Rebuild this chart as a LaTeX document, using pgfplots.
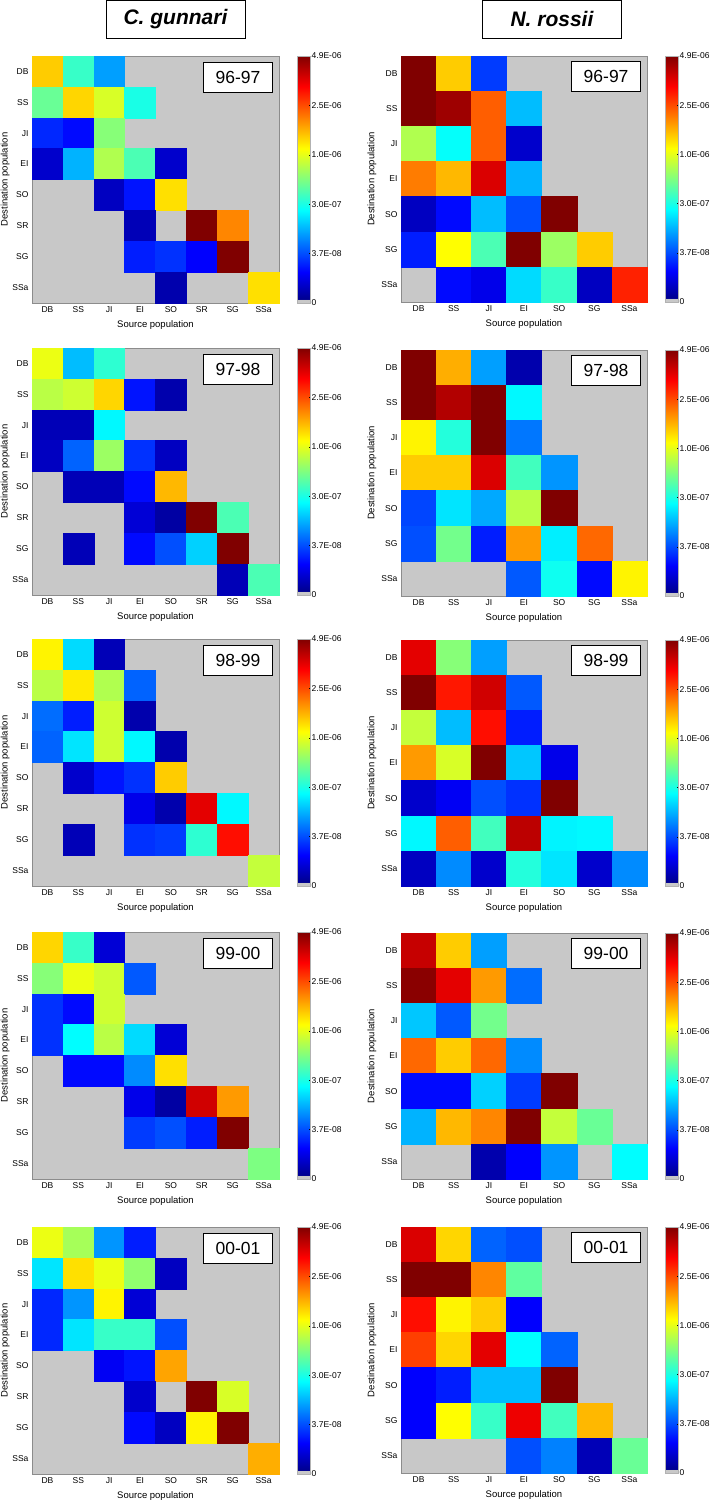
\documentclass[border=0pt]{standalone}
\usepackage{fontspec}
\setmainfont{Liberation Sans}
\usepackage{pgfplots}
\usepackage{pgfplotstable}
\pgfplotsset{compat=1.18}

\definecolor{cgray}{RGB}{200,200,200}

% columns: x = source index, y = destination index (0 = top row), f = position in jet colormap (0..1)
\pgfplotstableread{
x y f
0 0 .67
1 0 .42
2 0 .27
0 1 .47
1 1 .66
2 1 .58
3 1 .39
0 2 .15
1 2 .12
2 2 .50
0 3 .06
1 3 .29
2 3 .54
3 3 .44
4 3 .06
2 4 .05
3 4 .13
4 4 .65
3 5 .04
5 5 1
6 5 .74
3 6 .14
4 6 .16
5 6 .11
6 6 1
4 7 .03
7 7 .65
}\LA
\pgfplotstableread{
x y f
0 0 1
1 0 .67
2 0 .17
0 1 1
1 1 .97
2 1 .78
3 1 .30
0 2 .54
1 2 .37
2 2 .78
3 2 .06
0 3 .75
1 3 .69
2 3 .91
3 3 .29
0 4 .05
1 4 .12
2 4 .30
3 4 .19
4 4 1
0 5 .14
1 5 .62
2 5 .44
3 5 1
4 5 .52
5 5 .67
1 6 .12
2 6 .09
3 6 .33
4 6 .42
5 6 .05
6 6 .84
}\RA
\pgfplotstableread{
x y f
0 0 .60
1 0 .30
2 0 .41
0 1 .55
1 1 .57
2 1 .66
3 1 .13
4 1 .03
0 2 .04
1 2 .04
2 2 .36
0 3 .05
1 3 .21
2 3 .52
3 3 .16
4 3 .05
1 4 .04
2 4 .04
3 4 .12
4 4 .69
3 5 .07
4 5 .02
5 5 1
6 5 .44
1 6 .04
3 6 .12
4 6 .19
5 6 .32
6 6 1
6 7 .04
7 7 .44
}\LB
\pgfplotstableread{
x y f
0 0 1
1 0 .70
2 0 .27
3 0 .03
0 1 1
1 1 .95
2 1 1
3 1 .36
0 2 .63
1 2 .40
2 2 1
3 2 .23
0 3 .67
1 3 .67
2 3 .91
3 3 .43
4 3 .26
0 4 .18
1 4 .34
2 4 .28
3 4 .55
4 4 1
0 5 .19
1 5 .48
2 5 .14
3 5 .72
4 5 .35
5 5 .77
3 6 .20
4 6 .38
5 6 .12
6 6 .63
}\RB
\pgfplotstableread{
x y f
0 0 .63
1 0 .33
2 0 .04
0 1 .55
1 1 .64
2 1 .54
3 1 .21
0 2 .22
1 2 .14
2 2 .57
3 2 .03
0 3 .21
1 3 .34
2 3 .57
3 3 .36
4 3 .03
1 4 .06
2 4 .13
3 4 .16
4 4 .67
3 5 .09
4 5 .03
5 5 .90
6 5 .36
1 6 .04
3 6 .16
4 6 .17
5 6 .41
6 6 .86
7 7 .56
}\LC
\pgfplotstableread{
x y f
0 0 .90
1 0 .50
2 0 .27
0 1 1
1 1 .85
2 1 .92
3 1 .20
0 2 .56
1 2 .30
2 2 .86
3 2 .14
0 3 .72
1 3 .58
2 3 1
3 3 .31
4 3 .09
0 4 .06
1 4 .10
2 4 .19
3 4 .16
4 4 1
0 5 .36
1 5 .78
2 5 .43
3 5 .94
4 5 .355
5 5 .36
0 6 .05
1 6 .25
2 6 .06
3 6 .40
4 6 .34
5 6 .06
6 6 .25
}\RC
\pgfplotstableread{
x y f
0 0 .66
1 0 .42
2 0 .07
0 1 .50
1 1 .60
2 1 .57
3 1 .20
0 2 .16
1 2 .12
2 2 .57
0 3 .16
1 3 .365
2 3 .55
3 3 .33
4 3 .07
1 4 .12
2 4 .12
3 4 .25
4 4 .65
3 5 .09
4 5 .02
5 5 .92
6 5 .72
3 6 .17
4 6 .19
5 6 .14
6 6 1
7 7 .49
}\LD
\pgfplotstableread{
x y f
0 0 .93
1 0 .67
2 0 .27
0 1 .99
1 1 .90
2 1 .72
3 1 .22
0 2 .31
1 2 .20
2 2 .48
0 3 .77
1 3 .67
2 3 .77
3 3 .25
0 4 .12
1 4 .12
2 4 .32
3 4 .17
4 4 1
0 5 .29
1 5 .69
2 5 .74
3 5 1
4 5 .56
5 5 .47
2 6 .03
3 6 .11
4 6 .26
6 6 .365
}\RD
\pgfplotstableread{
x y f
0 0 .60
1 0 .53
2 0 .26
3 0 .14
0 1 .34
1 1 .65
2 1 .60
3 1 .51
4 1 .05
0 2 .15
1 2 .26
2 2 .63
3 2 .07
0 3 .15
1 3 .34
2 3 .42
3 3 .42
4 3 .19
2 4 .10
3 4 .13
4 4 .71
3 5 .06
5 5 1
6 5 .58
3 6 .12
4 6 .05
5 6 .63
6 6 1
7 7 .70
}\LE
\pgfplotstableread{
x y f
0 0 .91
1 0 .66
2 0 .21
3 0 .19
0 1 1
1 1 1
2 1 .74
3 1 .46
0 2 .86
1 2 .63
2 2 .67
3 2 .11
0 3 .81
1 3 .66
2 3 .90
3 3 .365
4 3 .21
0 4 .11
1 4 .14
2 4 .30
3 4 .30
4 4 1
0 5 .11
1 5 .62
2 5 .42
3 5 .89
4 5 .43
5 5 .69
3 6 .19
4 6 .24
5 6 .04
6 6 .47
}\RE

\pgfplotsset{
  colormap={grayjet}{rgb255(0pt)=(200,200,200) rgb255(9pt)=(200,200,200)
    rgb255(10pt)=(0,0,143) rgb255(81pt)=(0,0,255) rgb255(244pt)=(0,255,255)
    rgb255(406pt)=(255,255,0) rgb255(569pt)=(255,0,0) rgb255(650pt)=(128,0,0)},
  panelbase/.style={
    scale only axis,
    y dir=reverse,
    axis background/.style={fill=cgray},
    axis line style={draw=black!45, line width=0.4pt},
    major tick length=0pt,
    ticklabel style={font=\fontsize{8.5}{9}\selectfont, text=black},
    xlabel={Source population}, ylabel={Destination population},
    label style={font=\fontsize{9.5}{10}\selectfont},
    point meta min=-0.015625, point meta max=1,
    colorbar,
    colorbar style={
      at={(parent axis.north east)}, anchor=north west,
      scale only axis, width=13pt,
      y dir=normal,
      ytick={-0.015625,0.1875,0.390625,0.59375,0.796875,1},
      yticklabels={0,3.7E-08,3.0E-07,1.0E-06,2.5E-06,4.9E-06},
      yticklabel style={font=\fontsize{8.5}{9}\selectfont, inner sep=1pt},
      ytick pos=right, tick align=inside, major tick length=2pt,
      tick style={black, line width=0.4pt},
      axis line style={draw=black!30, line width=0.3pt},
    },
  },
  cgpanel/.style={panelbase,
    width=247pt, height=247pt,
    xmin=-0.5, xmax=7.5, ymin=-0.5, ymax=7.5,
    xtick={0,...,7}, ytick={0,...,7},
    xticklabels={DB,SS,JI,EI,SO,SR,SG,SSa},
    yticklabels={DB,SS,JI,EI,SO,SR,SG,SSa},
    xlabel style={at={(axis description cs:0.5,-0.089)}, anchor=center},
    ylabel style={at={(axis description cs:-0.109,0.5)}, anchor=center},
    colorbar style={xshift=10pt, height=247pt},
  },
  nrpanel/.style={panelbase,
    width=246pt, height=246pt,
    xmin=-0.5, xmax=6.5, ymin=-0.5, ymax=6.5,
    xtick={0,...,6}, ytick={0,...,6},
    xticklabels={DB,SS,JI,EI,SO,SG,SSa},
    yticklabels={DB,SS,JI,EI,SO,SG,SSa},
    xlabel style={at={(axis description cs:0.5,-0.089)}, anchor=center},
    ylabel style={at={(axis description cs:-0.118,0.5)}, anchor=center},
    colorbar style={xshift=10pt, height=246pt},
  },
  cgcells/.style={scatter, only marks, mark=square*, mark size=15.4375pt,
    point meta=explicit, scatter/use mapped color={draw=mapped color, fill=mapped color},
    mark options={line width=0.3pt}},
  nrcells/.style={scatter, only marks, mark=square*, mark size=17.571pt,
    point meta=explicit, scatter/use mapped color={draw=mapped color, fill=mapped color},
    mark options={line width=0.3pt}},
}
\tikzset{yearbox/.style={draw=black, line width=1pt, fill=white, anchor=north east,
    minimum width=69pt, minimum height=30pt, inner sep=0pt,
    font=\fontsize{17.5}{18}\selectfont}}

\begin{document}
\begin{tikzpicture}[x=1pt,y=1pt]
\useasboundingbox (0,0) rectangle (709,1503);

\node[draw=black, line width=1pt, minimum width=139pt, minimum height=38pt, inner sep=0pt,
  font=\bfseries\itshape\fontsize{21}{22}\selectfont] at (175.5,1483.5) {C. gunnari};
\node[draw=black, line width=1pt, minimum width=139pt, minimum height=38pt, inner sep=0pt,
  font=\bfseries\itshape\fontsize{21}{22}\selectfont] at (552,1483.5) {N. rossii};

% ---------- row 1 ----------
\begin{axis}[cgpanel, at={(32pt,1200pt)}, anchor=south west]
\addplot[cgcells] table[x=x, y=y, meta=f] {\LA};
\node[yearbox] at (axis description cs:0.976,0.976) {96-97};
\end{axis}
\begin{axis}[nrpanel, at={(401pt,1201pt)}, anchor=south west]
\addplot[nrcells] table[x=x, y=y, meta=f] {\RA};
\node[yearbox] at (axis description cs:0.976,0.98) {96-97};
\end{axis}

% ---------- row 2 ----------
\begin{axis}[cgpanel, at={(32pt,908pt)}, anchor=south west]
\addplot[cgcells] table[x=x, y=y, meta=f] {\LB};
\node[yearbox] at (axis description cs:0.976,0.976) {97-98};
\end{axis}
\begin{axis}[nrpanel, at={(401pt,907pt)}, anchor=south west]
\addplot[nrcells] table[x=x, y=y, meta=f] {\RB};
\node[yearbox] at (axis description cs:0.976,0.98) {97-98};
\end{axis}

% ---------- row 3 ----------
\begin{axis}[cgpanel, at={(32pt,617pt)}, anchor=south west]
\addplot[cgcells] table[x=x, y=y, meta=f] {\LC};
\node[yearbox] at (axis description cs:0.976,0.976) {98-99};
\end{axis}
\begin{axis}[nrpanel, at={(401pt,617pt)}, anchor=south west]
\addplot[nrcells] table[x=x, y=y, meta=f] {\RC};
\node[yearbox] at (axis description cs:0.976,0.98) {98-99};
\end{axis}

% ---------- row 4 ----------
\begin{axis}[cgpanel, at={(32pt,324pt)}, anchor=south west]
\addplot[cgcells] table[x=x, y=y, meta=f] {\LD};
\node[yearbox] at (axis description cs:0.976,0.976) {99-00};
\end{axis}
\begin{axis}[nrpanel, at={(401pt,324pt)}, anchor=south west]
\addplot[nrcells] table[x=x, y=y, meta=f] {\RD};
\node[yearbox] at (axis description cs:0.976,0.98) {99-00};
\end{axis}

% ---------- row 5 ----------
\begin{axis}[cgpanel, at={(32pt,29pt)}, anchor=south west]
\addplot[cgcells] table[x=x, y=y, meta=f] {\LE};
\node[yearbox] at (axis description cs:0.976,0.976) {00-01};
\end{axis}
\begin{axis}[nrpanel, at={(401pt,30pt)}, anchor=south west]
\addplot[nrcells] table[x=x, y=y, meta=f] {\RE};
\node[yearbox] at (axis description cs:0.976,0.98) {00-01};
\end{axis}

\end{tikzpicture}
\end{document}
